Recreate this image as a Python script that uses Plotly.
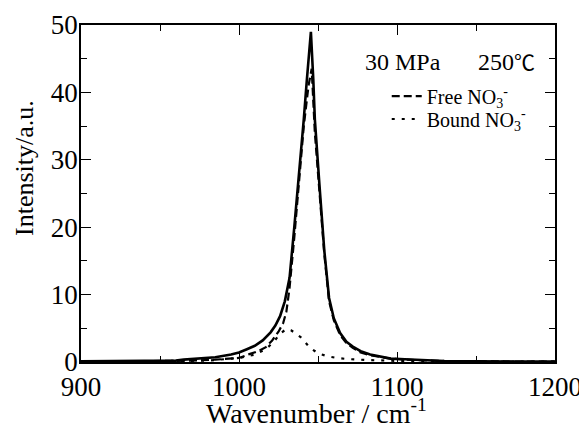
import plotly.graph_objects as go

# ---- data ----
wn_total = [900, 920, 940, 960, 965, 975, 985, 995, 1000, 1005, 1010, 1015, 1020, 1023, 1026, 1029,
            1032, 1035, 1038, 1041, 1043, 1045.5, 1047, 1048, 1051, 1054, 1057, 1060, 1064, 1068,
            1072, 1077, 1083, 1090, 1096, 1105, 1115, 1130, 1150, 1170, 1200]
total = [0.1, 0.15, 0.1, 0.2, 0.35, 0.5, 0.7, 1.1, 1.4, 1.9, 2.4, 3.2, 4.4, 5.4, 6.8, 9.0,
         12.5, 20.0, 27.5, 36.0, 42.0, 49.0, 42.0, 36.0, 26.0, 16.5, 9.5, 6.5, 4.3, 3.0,
         2.3, 1.6, 1.1, 0.8, 0.5, 0.4, 0.3, 0.15, 0.1, 0.1, 0.05]

wn_free = [900, 950, 970, 985, 995, 1000, 1007, 1012, 1017, 1021, 1025, 1028, 1030, 1032, 1035,
           1038, 1041, 1044, 1046, 1048, 1051, 1054, 1057, 1060, 1064, 1068, 1072, 1077, 1083,
           1090, 1096, 1105, 1115, 1130, 1150, 1200]
free = [0.05, 0.1, 0.2, 0.35, 0.5, 0.6, 1.2, 1.6, 2.2, 3.2, 4.5, 5.8, 7.5, 11.0, 18.5,
        27.0, 35.0, 41.0, 43.5, 34.0, 25.0, 16.0, 9.0, 6.2, 4.0, 2.8, 2.1, 1.4, 1.0,
        0.7, 0.5, 0.35, 0.25, 0.15, 0.1, 0.05]

wn_bound = [900, 980, 1000, 1010, 1017, 1022, 1026, 1030, 1033, 1036, 1039, 1042, 1045, 1050,
            1056, 1062, 1068, 1080, 1095, 1110, 1200]
bound = [0.05, 0.2, 0.6, 1.1, 1.9, 3.0, 4.2, 4.9, 4.7, 4.2, 3.7, 2.9, 2.1, 1.3,
         0.85, 0.6, 0.45, 0.3, 0.2, 0.1, 0.05]

x_ticks = [900, 1000, 1100, 1200]
y_ticks = [0, 10, 20, 30, 40, 50]

FONT = "Liberation Serif, Times New Roman, serif"

fig = go.Figure()
fig.add_trace(go.Scatter(x=wn_total, y=total, mode="lines", showlegend=False,
                         line=dict(color="black", width=2.6)))
fig.add_trace(go.Scatter(x=wn_free, y=free, mode="lines", name="Free NO<sub>3</sub><sup>-</sup>",
                         legend="legend",
                         line=dict(color="black", width=2.2, dash="8px,4px")))
fig.add_trace(go.Scatter(x=wn_bound, y=bound, mode="lines", name="Bound NO<sub>3</sub><sup>-</sup>",
                         legend="legend2",
                         line=dict(color="black", width=2.2, dash="3px,7px")))

axis_common = dict(showline=True, linecolor="black", linewidth=1.5, mirror="allticks",
                   ticks="inside", tickcolor="black", tickwidth=1.2, ticklen=10,
                   showgrid=False, zeroline=False, ticklabeloverflow="allow",
                   tickfont=dict(family=FONT, size=27, color="black"))

fig.update_xaxes(range=[900, 1200], tickvals=x_ticks, ticktext=[str(v) for v in x_ticks],
                 minor=dict(dtick=50, tick0=900, ticks="inside", ticklen=6, tickcolor="black", tickwidth=1.2),
                 **axis_common)
fig.update_yaxes(range=[0, 50], tickvals=y_ticks, ticktext=[str(v) for v in y_ticks],
                 ticklabelstandoff=-4,
                 minor=dict(dtick=5, tick0=0, ticks="inside", ticklen=6, tickcolor="black", tickwidth=1.2),
                 **axis_common)

leg_common = dict(xanchor="left", yanchor="middle", bgcolor="rgba(0,0,0,0)",
                  font=dict(family=FONT, size=20, color="black"))

fig.update_layout(
    width=579, height=420,
    margin=dict(l=73, r=32, t=17, b=66, autoexpand=False),
    paper_bgcolor="white", plot_bgcolor="white",
    font=dict(family=FONT, color="black"),
    legend=dict(x=0.645, y=0.789, **leg_common),
    legend2=dict(x=0.645, y=0.721, **leg_common),
    annotations=[
        dict(text="Intensity/a.u.", x=-0.118, y=0.576, xref="paper", yref="paper",
             textangle=-90, showarrow=False, xanchor="center", yanchor="middle",
             font=dict(family=FONT, size=26, color="black")),
        dict(text="Wavenumber / cm<sup>-1</sup>", x=0.497, y=-0.147, xref="paper", yref="paper",
             showarrow=False, xanchor="center", yanchor="middle",
             font=dict(family=FONT, size=28, color="black")),
        dict(text="30 MPa", x=0.595, y=0.89, xref="paper", yref="paper",
             showarrow=False, xanchor="left", yanchor="middle",
             font=dict(family=FONT, size=24, color="black")),
        dict(text="250<span style=\"font-family:'Noto Sans CJK JP';font-size:21px\">℃</span>",
             x=0.962, y=0.893, xref="paper", yref="paper",
             showarrow=False, xanchor="right", yanchor="middle",
             font=dict(family=FONT, size=24, color="black")),
    ],
)

fig.write_html("out.html")
